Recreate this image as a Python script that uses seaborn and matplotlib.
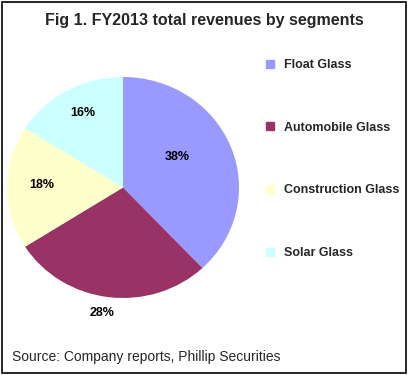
import matplotlib
matplotlib.use("Agg")
import matplotlib.pyplot as plt
from matplotlib.lines import Line2D
from matplotlib.patches import Rectangle
import seaborn as sns

# data
segments = ["Float Glass", "Automobile Glass", "Construction Glass", "Solar Glass"]
shares = [38, 28, 18, 16]
pct_labels = ["38%", "28%", "18%", "16%"]
colors = ["#9999FF", "#993366", "#FFFFCC", "#CCFFFF"]

title = "Fig 1. FY2013 total revenues by segments"
source = "Source: Company reports, Phillip Securities"

# where the percentage labels sit (data coords of the unit pie)
label_pos = [(0.47, 0.28), (-0.18, -1.14), (-0.70, 0.02), (-0.35, 0.67)]

sns.set_theme(style="white")
plt.rcParams["font.family"] = ["Liberation Sans", "DejaVu Sans"]

W, H = 409, 375
fig = plt.figure(figsize=(W / 100, H / 100), dpi=100)
fig.patch.set_facecolor("white")

# pie axes, placed in pixels
cx, cy, rx, ry = 123, 187.5, 116, 110.5
ax = fig.add_axes([(cx - rx) / W, (H - cy - ry) / H, 2 * rx / W, 2 * ry / H])
palette = sns.color_palette(colors)
wedges, _ = ax.pie(shares, colors=palette, startangle=90, counterclock=False,
                   wedgeprops=dict(linewidth=0))
ax.set_aspect("auto")
ax.set_xlim(-1, 1)
ax.set_ylim(-1, 1)
ax.axis("off")

for txt, (x, y) in zip(pct_labels, label_pos):
    ax.text(x, y, txt, ha="center", va="center", fontsize=9,
            fontweight="bold", color="black")

fig.text(0.5, 1 - 20 / H, title, ha="center", va="center",
         fontsize=11.5, fontweight="bold")
fig.text(12 / W, 1 - 357 / H, source, ha="left", va="center", fontsize=10)

handles = [Line2D([], [], marker="s", linestyle="none", markersize=6,
                  markerfacecolor=c, markeredgecolor=c) for c in palette]
fig.legend(handles, segments, loc="upper left",
           bbox_to_anchor=(264 / W, 1 - 59 / H), frameon=False,
           prop=dict(size=9, weight="bold"), labelspacing=4.05,
           handlelength=1.0, handletextpad=0.6, borderaxespad=0, borderpad=0)

# outer frame
fig.patches.append(Rectangle((1.5 / W, 2.5 / H), 404.5 / W, 371 / H,
                             transform=fig.transFigure, fill=False,
                             edgecolor="black", linewidth=1.2))

fig.savefig("out.png", dpi=100)
